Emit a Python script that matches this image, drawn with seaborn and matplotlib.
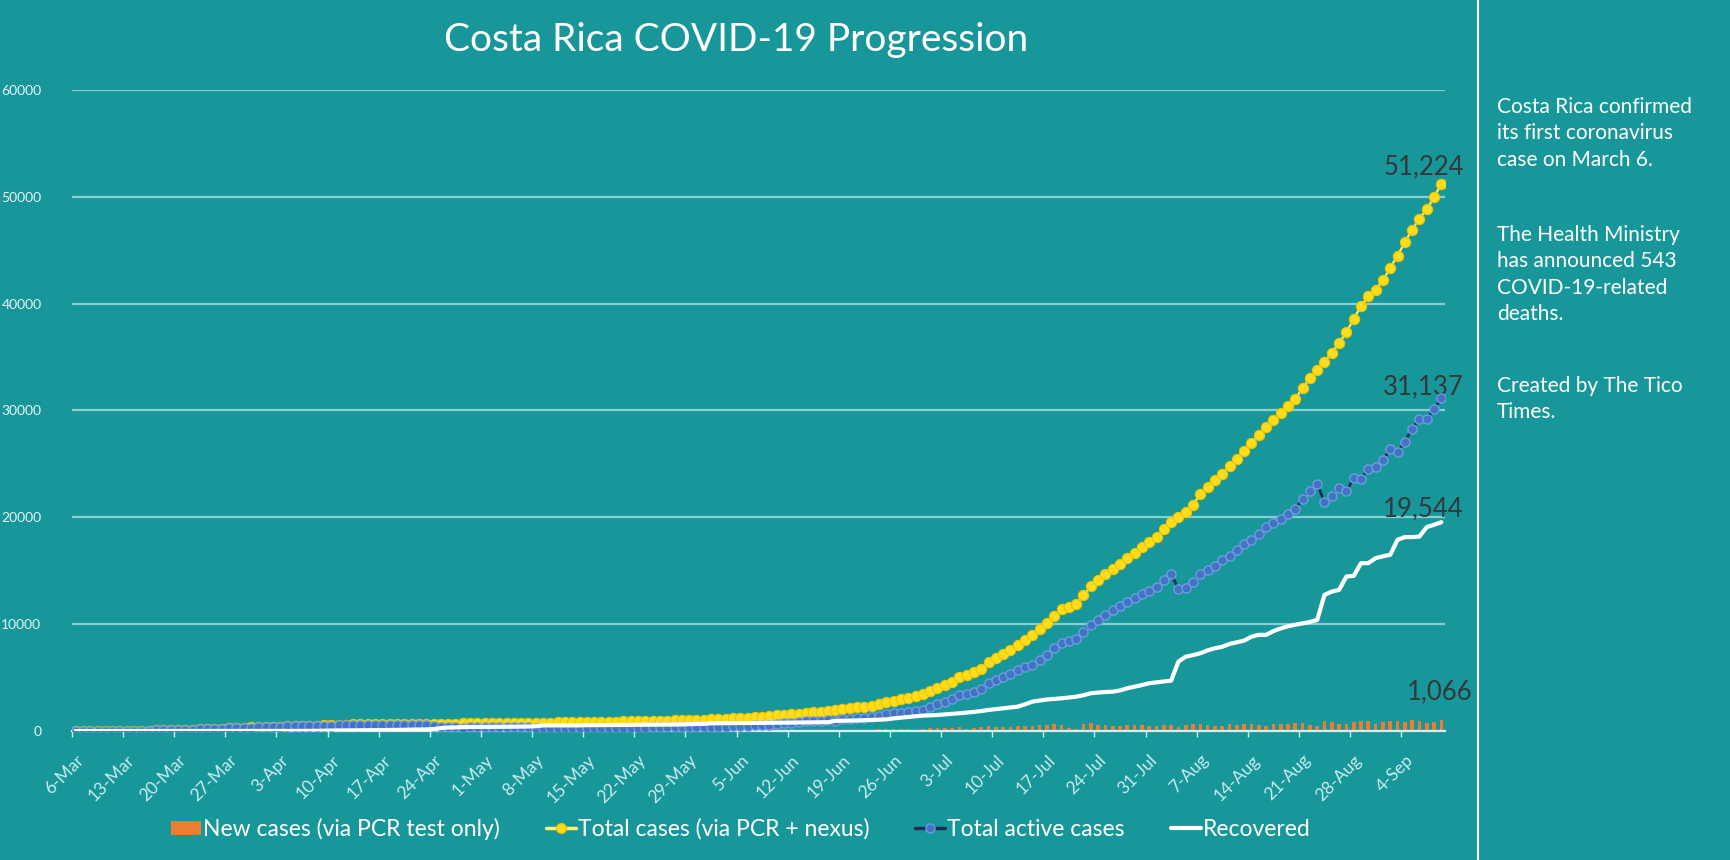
import numpy as np
import pandas as pd
import matplotlib
matplotlib.use("Agg")
import matplotlib.pyplot as plt
import seaborn as sns
from matplotlib.lines import Line2D
from matplotlib.patches import Patch

# ---------------- data (daily, 6-Mar .. 9-Sep 2020) ----------------
total_cases = [
    1, 5, 9, 9, 13, 22, 23, 26, 27, 35, 41, 50, 69, 87, 113, 117, 134, 158, 177, 201, 231, 263, 295, 314, 330, 347,
    375, 396, 416, 435, 454, 467, 483, 502, 539, 558, 577, 595, 612, 618, 626, 642, 649, 655, 660, 662, 669, 681, 686, 687, 693, 695, 697, 705, 713, 719,
    725, 733, 739, 742, 755, 761, 765, 773, 780, 792, 801, 804, 815, 830, 843, 853, 863, 866, 882, 897, 903, 911, 918, 930, 951, 956, 984, 1000, 1022, 1047, 1056,
    1084, 1105, 1157, 1194, 1228, 1263, 1318, 1342, 1375, 1461, 1538, 1565, 1612, 1715, 1744, 1796, 1871, 1939, 2058, 2127, 2213, 2277, 2368, 2515, 2684, 2836, 2979, 3130, 3269, 3459,
    3753, 4023, 4325, 4621, 5036, 5241, 5486, 5836, 6485, 6845, 7231, 7596, 8036, 8482, 8986, 9546, 10090, 10800, 11400, 11650, 11850, 12700, 13550, 14100, 14650, 15150, 15650, 16180, 16700, 17250, 17720,
    18200, 18900, 19550, 20000, 20500, 21200, 22150, 22800, 23450, 24100, 24800, 25500, 26250, 26960, 27740, 28420, 29080, 29770, 30390, 31080, 32110, 33050, 33830, 34550, 35390, 36330, 37330, 38580, 39760, 40700, 41320,
    42170, 43350, 44500, 45750, 46940, 47970, 48820, 49970, 51224,
]
active_cases = [
    1, 5, 9, 9, 13, 22, 23, 26, 27, 35, 41, 50, 68, 86, 112, 115, 132, 156, 175, 197, 227, 258, 290, 309, 324, 341,
    369, 390, 408, 427, 446, 456, 468, 482, 506, 513, 529, 534, 549, 548, 546, 557, 557, 559, 552, 546, 533, 539, 530, 503, 411, 361, 353, 323, 331, 337,
    335, 333, 339, 342, 347, 345, 338, 322, 251, 262, 271, 270, 281, 296, 290, 296, 302, 305, 321, 327, 325, 320, 327, 338, 352, 349, 370, 380, 372, 384, 380,
    354, 370, 417, 449, 478, 508, 556, 572, 600, 676, 748, 765, 802, 899, 923, 969, 1034, 977, 1086, 1140, 1211, 1255, 1326, 1443, 1582, 1644, 1717, 1798, 1874, 2004,
    2267, 2506, 2757, 3002, 3355, 3498, 3671, 3940, 4487, 4765, 5070, 5363, 5721, 5944, 6196, 6651, 7090, 7745, 8280, 8455, 8570, 9275, 9940, 10410, 10900, 11365, 11740, 12060, 12420, 12810, 13100,
    13485, 14100, 14675, 13330, 13365, 13920, 14680, 15050, 15490, 16000, 16420, 16960, 17540, 17870, 18470, 19140, 19440, 19870, 20280, 20810, 21700, 22510, 23080, 21450, 21970, 22740, 22470, 23640, 23610, 24535, 24670,
    25340, 26370, 26100, 27095, 28280, 29250, 29205, 30135, 31137,
]
recovered = [
    0, 0, 0, 0, 0, 0, 0, 0, 0, 0, 0, 0, 0, 0, 0, 0, 0, 0, 0, 2, 2, 3, 3, 3, 4, 4,
    4, 4, 6, 6, 6, 9, 12, 17, 30, 42, 45, 58, 60, 67, 77, 81, 88, 92, 104, 112, 131, 137, 150, 178, 276, 328, 338, 376, 376, 376,
    384, 394, 394, 394, 402, 410, 421, 445, 523, 523, 523, 527, 527, 527, 546, 550, 553, 553, 553, 562, 570, 582, 582, 582, 589, 597, 604, 610, 640, 653, 666,
    720, 725, 730, 735, 740, 745, 752, 760, 765, 775, 780, 790, 800, 805, 810, 815, 825, 950, 960, 975, 990, 1010, 1030, 1060, 1090, 1180, 1250, 1320, 1380, 1440,
    1470, 1500, 1550, 1600, 1660, 1720, 1790, 1870, 1970, 2050, 2130, 2200, 2280, 2500, 2750, 2850, 2950, 3000, 3060, 3130, 3210, 3350, 3530, 3600, 3650, 3680, 3800, 4000, 4150, 4300, 4470,
    4560, 4640, 4710, 6500, 6960, 7100, 7280, 7550, 7750, 7880, 8150, 8300, 8460, 8830, 9000, 9000, 9350, 9600, 9800, 9950, 10080, 10200, 10400, 12740, 13050, 13210, 14460, 14520, 15710, 15710, 16180,
    16350, 16490, 17900, 18150, 18150, 18200, 19090, 19300, 19544,
]
new_cases = [
    1, 4, 4, 0, 4, 9, 1, 3, 1, 8, 6, 9, 19, 18, 26, 4, 17, 24, 19, 24, 30, 32, 32, 19, 16, 17,
    28, 21, 20, 19, 19, 13, 16, 19, 37, 19, 19, 18, 17, 6, 8, 16, 7, 6, 5, 2, 7, 12, 5, 1, 6, 2, 2, 8, 8, 6,
    6, 8, 6, 3, 13, 6, 4, 8, 7, 12, 9, 3, 11, 15, 13, 10, 10, 3, 16, 15, 6, 8, 7, 12, 21, 5, 28, 16, 22, 25, 9,
    28, 21, 52, 37, 34, 35, 55, 24, 33, 86, 77, 27, 47, 103, 29, 52, 75, 68, 119, 69, 86, 64, 91, 147, 169, 152, 143, 151, 139, 190,
    294, 270, 302, 296, 415, 205, 245, 350, 440, 360, 386, 365, 440, 446, 504, 560, 544, 620, 600, 250, 200, 650, 720, 550, 550, 500, 500, 530, 520, 550, 470,
    480, 520, 600, 400, 550, 620, 650, 520, 480, 450, 640, 600, 700, 650, 600, 500, 620, 700, 650, 760, 740, 550, 500, 900, 850, 700, 650, 800, 950, 900, 700,
    850, 900, 950, 800, 1000, 900, 750, 800, 1066,
]
tick_labels = ["6-Mar", "13-Mar", "20-Mar", "27-Mar", "3-Apr", "10-Apr", "17-Apr", "24-Apr",
               "1-May", "8-May", "15-May", "22-May", "29-May", "5-Jun", "12-Jun", "19-Jun",
               "26-Jun", "3-Jul", "10-Jul", "17-Jul", "24-Jul", "31-Jul", "7-Aug", "14-Aug",
               "21-Aug", "28-Aug", "4-Sep"]
y_ticks = [0, 10000, 20000, 30000, 40000, 50000, 60000]
series_names = ["New cases (via PCR test only)", "Total cases (via PCR + nexus)",
                "Total active cases", "Recovered"]
end_labels = ["51,224", "31,137", "19,544", "1,066"]
title_text = "Costa Rica COVID-19 Progression"
side_paragraphs = [
    ["Costa Rica confirmed", "its first coronavirus", "case on March 6."],
    ["The Health Ministry", "has announced 543", "COVID-19-related", "deaths."],
    ["Created by The Tico", "Times."],
]

# ---------------- style ----------------
sns.set_theme(style="white")
plt.rcParams["font.family"] = ["Lato", "DejaVu Sans"]

BG = "#18979a"
GRID = "#86cfd3"
ORANGE = "#ed7d31"
YEL_FACE = "#ffdc1c"
YEL_EDGE = "#f0c400"
YEL_LINE = "#fff176"
BLUE_FACE = "#4472c4"
BLUE_EDGE = "#6a9ee0"
NAVY = "#1b2f55"
ANN = "#30393c"

W, H = 1730, 860
fig = plt.figure(figsize=(W / 100, H / 100), dpi=100, facecolor=BG)
ax = fig.add_axes([72 / W, 1 - 731 / H, (1445 - 72) / W, (731 - 90) / H])
ax.set_facecolor(BG)

df = pd.DataFrame({
    "day": np.arange(len(total_cases)),
    "total": total_cases,
    "active": active_cases,
    "recovered": recovered,
    "new": new_cases,
})

sns.barplot(data=df, x="day", y="new", native_scale=True, color=ORANGE,
            saturation=1, width=0.5, ax=ax, zorder=2, linewidth=0)
sns.lineplot(data=df, x="day", y="total", ax=ax, color=YEL_LINE, lw=1.6,
             marker="o", markersize=7.4, markerfacecolor=YEL_FACE,
             markeredgecolor=YEL_EDGE, markeredgewidth=0.8, zorder=3)
sns.lineplot(data=df, x="day", y="active", ax=ax, color=NAVY, lw=2.0,
             marker="o", markersize=6.6, markerfacecolor=BLUE_FACE,
             markeredgecolor=BLUE_EDGE, markeredgewidth=1.0, zorder=4)
sns.lineplot(data=df, x="day", y="recovered", ax=ax, color="white", lw=3.0,
             zorder=5)

n = len(total_cases)
ax.set_xlim(-0.5, n - 0.5)
ax.set_ylim(0, 60000)
ax.set_xlabel("")
ax.set_ylabel("")

ax.set_xticks(np.arange(0, n, 7))
ax.set_xticklabels(tick_labels, rotation=45, ha="right", rotation_mode="anchor",
                   color="#c9eced", fontsize=12.5)
ax.set_xticks(np.arange(-0.5, n, 7), minor=True)
ax.tick_params(axis="x", which="major", length=0, pad=15)
ax.tick_params(axis="x", which="minor", length=4, color="#cdeeee", width=1, bottom=True)

ax.set_yticks(y_ticks)
ax.set_yticklabels([str(v) for v in y_ticks], color="#e6f4f4", fontsize=10)
ax.tick_params(axis="y", length=0, pad=22)

ax.yaxis.grid(True, color=GRID, lw=1.6)
ax.xaxis.grid(False)
ax.set_axisbelow(True)
for s in ["left", "right", "top"]:
    ax.spines[s].set_visible(False)
ax.spines["bottom"].set_color("#d5eeee")
ax.spines["bottom"].set_linewidth(1.6)

# end-of-series labels
last = n - 1
ax.annotate(end_labels[0], xy=(last, total_cases[-1]), xytext=(-18, 17),
            textcoords="offset pixels", ha="center", va="center", fontsize=18.5, color=ANN)
ax.annotate(end_labels[1], xy=(last, active_cases[-1]), xytext=(-18, 12),
            textcoords="offset pixels", ha="center", va="center", fontsize=18.5, color=ANN)
ax.annotate(end_labels[2], xy=(last, recovered[-1]), xytext=(-18, 13),
            textcoords="offset pixels", ha="center", va="center", fontsize=18.5, color=ANN)
ax.annotate(end_labels[3], xy=(last, new_cases[-1]), xytext=(-2, 28),
            textcoords="offset pixels", ha="center", va="center", fontsize=18.5, color=ANN)

# title
fig.text(736 / W, 1 - 40 / H, title_text, ha="center", va="center",
         fontsize=28, color="white")

# legend
handles = [
    Patch(facecolor=ORANGE, edgecolor="none"),
    Line2D([], [], color=YEL_LINE, lw=2.5, marker="o", markersize=7,
           markerfacecolor=YEL_FACE, markeredgecolor=YEL_EDGE),
    Line2D([], [], color=NAVY, lw=2.5, marker="o", markersize=6.5,
           markerfacecolor=BLUE_FACE, markeredgecolor=BLUE_EDGE),
    Line2D([], [], color="white", lw=3),
]
leg = fig.legend(handles, series_names, loc="center", bbox_to_anchor=(741 / W, 1 - 829 / H),
                 ncol=4, frameon=False, fontsize=16.5, handlelength=1.3,
                 handletextpad=0.1, columnspacing=2.0, handleheight=0.6)
for t in leg.get_texts():
    t.set_color("white")

# separator and side notes
fig.add_artist(Line2D([1478 / W, 1478 / W], [0, 1], transform=fig.transFigure,
                      color="white", lw=1.5))
para_top = [107, 235, 386]
line_gap = 26.3
for y0, lines in zip(para_top, side_paragraphs):
    for i, line in enumerate(lines):
        fig.text(1497 / W, 1 - (y0 + i * line_gap) / H, line, ha="left",
                 va="center", fontsize=15, color="white")

fig.savefig("out.png", dpi=100, facecolor=BG)
